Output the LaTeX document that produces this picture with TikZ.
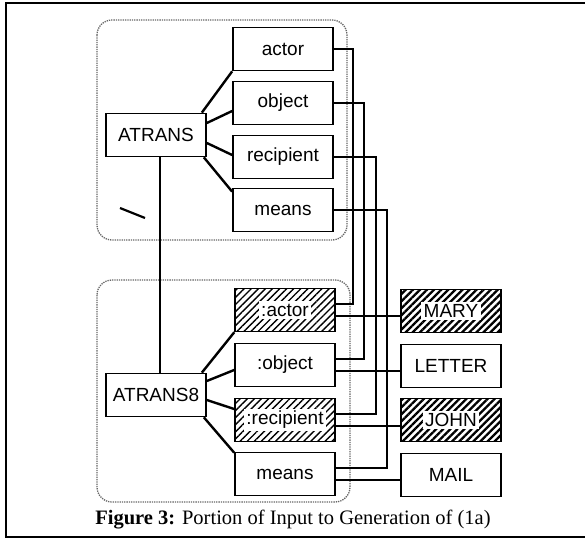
\documentclass[tikz,border=0pt]{standalone}
\usepackage{fontspec}
\setmainfont{Liberation Serif}
\setsansfont{Liberation Sans}
\usepackage{tikz}
\usetikzlibrary{calc,patterns.meta}

\tikzset{
	slot/.style={draw, line width=1.7pt, minimum width=100pt, minimum height=43pt, inner sep=0pt, font=\sffamily\fontsize{19}{22}\selectfont},
	bound/.style={slot, pattern={Lines[angle=45,distance=5pt,line width=1.4pt]}},
	filler/.style={slot, pattern={Lines[angle=45,distance=5pt,line width=2.3pt]}},
	group/.style={draw=black!60, densely dotted, line width=1.3pt, rounded corners=15pt},
	link/.style={line width=1.6pt},
	arm/.style={line width=2.4pt}
}
\setlength{\fboxsep}{2.5pt}

\begin{document}
\begin{tikzpicture}[x=1pt, y=-1pt]

			\useasboundingbox (0, 0) rectangle (585, 540);

			% frame and the two groups
			\draw[line width=1.8pt] (585, 3) -- (6, 3) -- (6, 537) -- (585, 537);
			\draw[group] (97, 20) rectangle (347, 240);
			\draw[group] (97, 280) rectangle (350, 502);

			\coordinate (lane1) at (353, 0);
			\coordinate (lane2) at (364, 0);
			\coordinate (lane3) at (376, 0);
			\coordinate (lane4) at (387, 0);

			% input frame
			\node[slot] (atrans) at (156, 135) {ATRANS};
			\foreach \name/\y in {actor/49, object/103, recipient/157, means/210}
			{
					\node[slot] (\name) at (283, \y) {\name};
			}

			% generated frame
			\node[slot] (atrans8) at (156, 395) {ATRANS8};
			\node[bound] (bactor) at (285, 310) {\colorbox{white}{:actor}};
			\node[slot] (bobject) at (285, 365) {:object};
			\node[bound] (brecipient) at (285, 420) {\colorbox{white}{:recipient}};
			\node[slot] (bmeans) at (285, 474) {means};

			% fillers
			\node[filler] (mary) at (451, 311) {\colorbox{white}{MARY}};
			\node[slot] (letter) at (451, 366) {LETTER};
			\node[filler] (john) at (451, 420) {\colorbox{white}{JOHN}};
			\node[slot] (mail) at (451, 475) {MAIL};

			\draw[arm] ([xshift=-5pt]atrans.north east) -- (actor.south west);
			\draw[arm] ([yshift=12pt]atrans.east) -- ([yshift=-8pt]object.west);
			\draw[arm] ([yshift=-8pt]atrans.east) -- ([yshift=2pt]recipient.west);
			\draw[arm] ([xshift=-3pt]atrans.south east) -- ([yshift=-4pt]means.north west);

			\draw[arm] ([xshift=-5pt]atrans8.north east) -- (bactor.south west);
			\draw[arm] ([yshift=14pt]atrans8.east) -- ([yshift=-5pt]bobject.west);
			\draw[arm] ([yshift=-5pt]atrans8.east) -- ([yshift=11pt]brecipient.west);
			\draw[arm] ([xshift=-3pt]atrans8.south east) -- ([yshift=-1pt]bmeans.north west);

			\draw[link] ([xshift=4pt]atrans.south) -- ([xshift=4pt]atrans8.north);

			\foreach \a/\b/\l in {actor/bactor/1, object/bobject/2, recipient/brecipient/3, means/bmeans/4}
			{
					\draw[link] (\a.east) -| ([yshift=6pt]\b.east -| lane\l) -- ([yshift=6pt]\b.east);
			}

			\foreach \b/\c in {bactor/mary, bobject/letter, brecipient/john, bmeans/mail}
			{
					\draw[link] ([yshift=-6pt]\b.east) -- ([yshift=-6pt]\b.east -| \c.west);
			}

			\draw[line width=2.2pt] (120, 208) -- (145, 218);

			\node (caption) at (293, 520) {\fontsize{20.5}{24}\selectfont\textbf{Figure 3:} Portion of Input to Generation of (1a)};

		\end{tikzpicture}
\end{document}
